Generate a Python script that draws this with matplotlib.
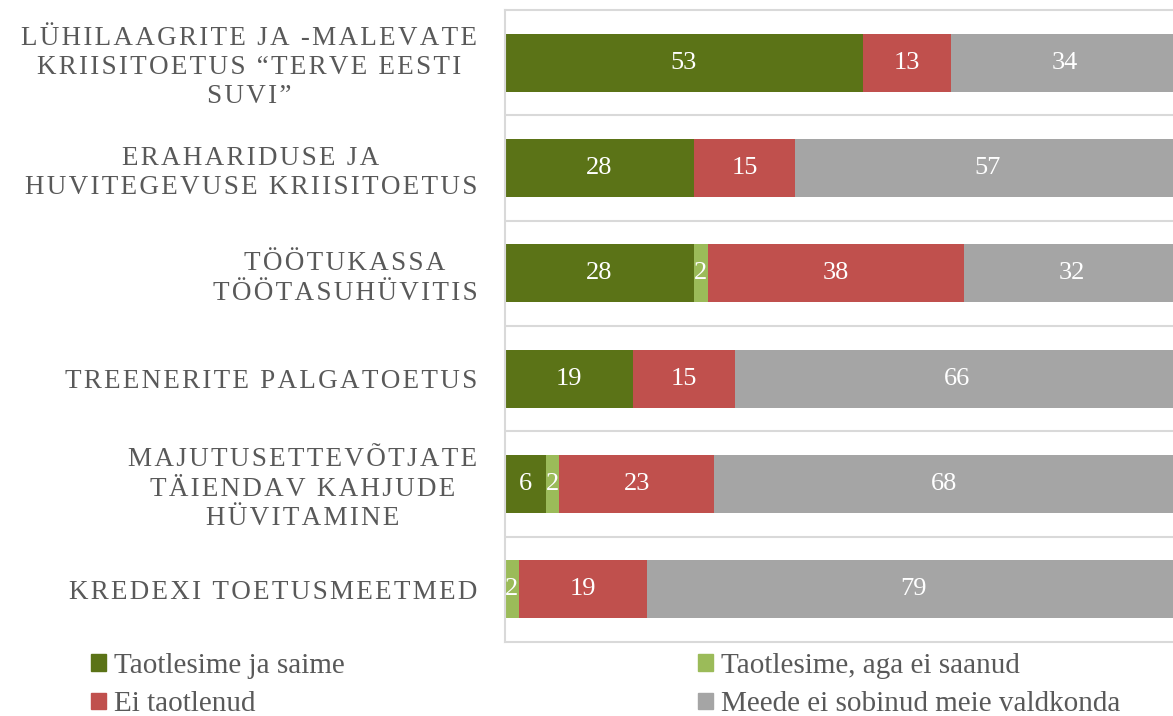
"""
Stacked horizontal bars: which crisis support measures were applied for
"""

import matplotlib.pyplot as plt
import matplotlib.patches as mpatches
import numpy as np

# Data (top to bottom)
categories = [
    'LÜHILAAGRITE JA -MALEVATE\nKRIISITOETUS “TERVE EESTI\nSUVI”',
    'ERAHARIDUSE JA\nHUVITEGEVUSE KRIISITOETUS',
    'TÖÖTUKASSA\nTÖÖTASUHÜVITIS',
    'TREENERITE PALGATOETUS',
    'MAJUTUSETTEVÕTJATE\nTÄIENDAV KAHJUDE\nHÜVITAMINE',
    'KREDEXI TOETUSMEETMED',
]
series_names = [
    'Taotlesime ja saime',
    'Taotlesime, aga ei saanud',
    'Ei taotlenud',
    'Meede ei sobinud meie valdkonda',
]
got = [53, 28, 28, 19, 6, 0]
applied_not_got = [0, 0, 2, 0, 2, 2]
not_applied = [13, 15, 38, 15, 23, 19]
not_suitable = [34, 57, 32, 66, 68, 79]

colors = ['#5B7317', '#9BBB59', '#C0504D', '#A5A5A5']
label_color = '#595959'
grid_color = '#D9D9D9'

plt.rcParams['font.family'] = ['Liberation Serif', 'DejaVu Serif']


def spaced(s: str) -> str:
    ''' Imitate letter spacing of the original labels '''
    return '\n'.join('\u200a'.join(line) for line in s.split('\n'))


def main():

    fig = plt.figure(figsize=(11.73, 7.16), dpi=100)
    ax = fig.add_axes([505/1173, 1 - 642/716, 675/1173, 632/716])

    y = np.arange(len(categories))
    left = np.zeros(len(categories))
    series = [got, applied_not_got, not_applied, not_suitable]

    for vals, col, name in zip(series, colors, series_names):
        vals = np.array(vals, dtype=float)
        ax.barh(y, vals, left=left, height=0.55, color=col, label=name, zorder=2)
        for yi, l, v in zip(y, left, vals):
            if v > 0:
                ax.text(l + v/2, yi, f'{v:g}', ha='center', va='center',
                        color='white', fontsize=19, zorder=3)
        left += vals

    ax.set_xlim(0, 100)
    ax.set_ylim(len(categories) - 0.5, -0.5)

    # separators between categories
    for b in np.arange(0.5, len(categories) - 0.5, 1):
        ax.axhline(b, color=grid_color, lw=1.5, zorder=1)

    ax.set_xticks([])
    ax.set_yticks(y)
    ax.set_yticklabels([spaced(c) for c in categories], fontsize=19.5,
                       color=label_color, multialignment='center',
                       linespacing=1.22)
    ax.tick_params(axis='y', length=0, pad=20)

    for s in ax.spines.values():
        s.set_color(grid_color)
        s.set_linewidth(1.5)

    handles = [mpatches.Patch(color=c) for c in colors]
    leg_kw = dict(frameon=False, fontsize=21, handlelength=0.5, handleheight=0.5,
                  handletextpad=0.3, labelspacing=0.42, labelcolor=label_color,
                  borderaxespad=0, borderpad=0)
    fig.legend([handles[0], handles[2]], [series_names[0], series_names[2]],
               loc='upper left', bbox_to_anchor=(91/1173, 1 - 653/716), **leg_kw)
    fig.legend([handles[1], handles[3]], [series_names[1], series_names[3]],
               loc='upper left', bbox_to_anchor=(698/1173, 1 - 653/716), **leg_kw)

    fig.savefig('out.png', dpi=100)


if __name__ == '__main__':
    main()
